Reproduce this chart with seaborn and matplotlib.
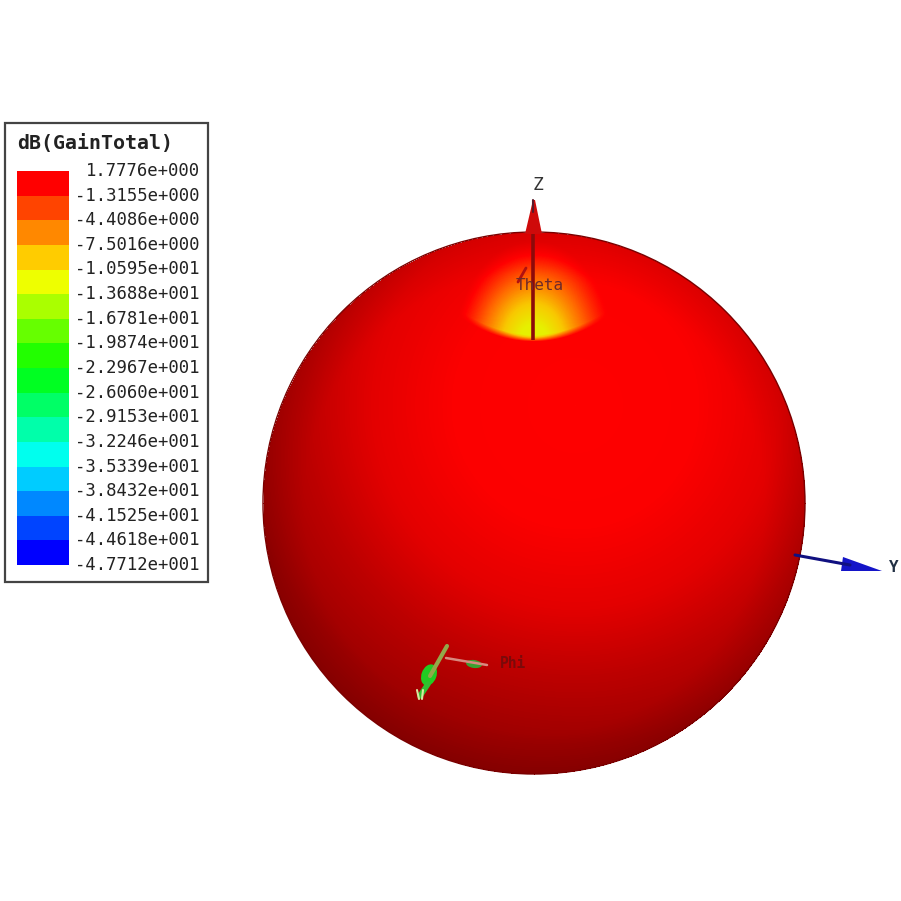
import numpy as np
import matplotlib
matplotlib.use("Agg")
import matplotlib.pyplot as plt
from matplotlib.colors import ListedColormap, LinearSegmentedColormap
from matplotlib.patches import Rectangle, Circle, Polygon, Ellipse
import seaborn as sns

# legend levels
db_labels = ["1.7776e+000", "-1.3155e+000", "-4.4086e+000", "-7.5016e+000", "-1.0595e+001",
             "-1.3688e+001", "-1.6781e+001", "-1.9874e+001", "-2.2967e+001", "-2.6060e+001",
             "-2.9153e+001", "-3.2246e+001", "-3.5339e+001", "-3.8432e+001", "-4.1525e+001",
             "-4.4618e+001", "-4.7712e+001"]
db_levels = [1.7776, -1.3155, -4.4086, -7.5016, -10.595, -13.688, -16.781, -19.874, -22.967,
             -26.060, -29.153, -32.246, -35.339, -38.432, -41.525, -44.618, -47.712]
band_colors = ["#ff0000", "#ff4400", "#ff8800", "#ffcc00", "#eeff00", "#aaff00", "#66ff00", "#22ff00",
               "#00ff22", "#00ff66", "#00ffaa", "#00ffee", "#00ccff", "#0088ff", "#0044ff", "#0000ff"]

# how the red falls off away from the bright area of the ball
shade_dist = [0.0, 0.45, 0.75, 1.0, 1.25, 1.5]
shade_val = [0.50, 0.49, 0.42, 0.31, 0.22, 0.18]
surface_stops = [(0.0, "#500000"), (0.5, "#ff0000"), (0.68, "#ff6a00"), (0.85, "#f8c800"), (1.0, "#e6f000")]

sns.set_style("white")
W = 901
fig = plt.figure(figsize=(9.01, 9.01), dpi=100, facecolor="white")


def px_axes(x0, y0, x1, y1):
    return fig.add_axes([x0 / W, 1 - y1 / W, (x1 - x0) / W, (y1 - y0) / W])


# legend colour bar
mids = [(db_levels[i] + db_levels[i + 1]) / 2 for i in range(len(band_colors))]
cax = px_axes(17, 171, 69, 565)
sns.heatmap(np.array(mids).reshape(-1, 1), ax=cax, cmap=ListedColormap(band_colors[::-1]),
            vmin=db_levels[-1], vmax=db_levels[0], cbar=False, xticklabels=False, yticklabels=False)

# radiation surface
cx, cy, r = 534, 503, 271
xs = np.arange(cx - r, cx + r + 1)
ys = np.arange(cy - r, cy + r + 1)
X, Y = np.meshgrid(xs, ys)
d = np.hypot(X - 575, Y - 405) / r
limb = np.hypot(X - cx, Y - cy) / r
base = np.interp(d, shade_dist, shade_val) - 0.05 * np.clip(limb - 0.85, 0, 1) / 0.15

t = np.hypot((X - 533) / 78.0, (Y - 345) / 105.0)
spot = np.clip(1 - t, 0, 1) ** 1.2
bowl = 341 - 11 * ((X - 533) / 50.0) ** 2
spot = spot * np.clip((bowl - Y) / 7.0, 0, 1)
grid = np.clip(base + spot * 0.66, 0, 1)

sax = px_axes(cx - r, cy - r, cx + r + 1, cy + r + 1)
surface_cmap = LinearSegmentedColormap.from_list("surface", surface_stops)
sns.heatmap(grid, ax=sax, cmap=surface_cmap, vmin=0, vmax=1, cbar=False, mask=limb > 1,
            xticklabels=False, yticklabels=False, rasterized=True)

# overlay in picture pixels
ax = fig.add_axes([0, 0, 1, 1], zorder=5)
ax.set_xlim(0, W)
ax.set_ylim(W, 0)
ax.axis("off")

ax.add_patch(Circle((cx, cy), r, fill=False, ec="#7a0000", lw=1.0))

# legend box and text
ax.add_patch(Rectangle((5, 123), 203, 459, fill=False, ec="#444444", lw=1.6))
ax.text(17, 143, "dB(GainTotal)", family="DejaVu Sans Mono", weight="bold", fontsize=14.3,
        color="#222222", va="center", ha="left")
lab_y = np.linspace(171, 565, len(db_labels))
for y, lab in zip(lab_y, db_labels):
    ax.text(200, y, lab, family="DejaVu Sans Mono", fontsize=12.4, color="#222222", va="center", ha="right")

# Z axis
ax.add_patch(Polygon([[525, 234], [533, 200], [535, 200], [542, 234]], fc="#cf0a0a", ec="none"))
ax.plot([533, 533], [234, 340], color="#8c0a0a", lw=2.6, solid_capstyle="butt")
ax.plot([533, 533], [200, 212], color="#5a1a2a", lw=1.5)
ax.text(538, 185, "Z", family="DejaVu Sans Mono", fontsize=13, color="#333333", ha="center", va="center")
ax.plot([518, 526], [282, 268], color="#b01010", lw=2)
ax.text(540, 286, "Theta", family="DejaVu Sans Mono", fontsize=11.5, color="#6e2a2a", ha="center", va="center")

# Y axis
ax.plot([795, 850], [555, 565], color="#101080", lw=2.2)
ax.add_patch(Polygon([[843, 557], [841, 571], [882, 571]], fc="#1414c8", ec="none"))
ax.text(894, 567, "Y", family="DejaVu Sans Mono", fontsize=11.5, weight="bold", color="#223044", ha="center", va="center")

# Phi marker
ax.plot([447, 430], [646, 676], color="#93a84a", lw=3)
ax.add_patch(Ellipse((429, 675), 15, 22, angle=20, fc="#22cc22", ec="none"))
ax.plot([428, 420], [684, 696], color="#30c030", lw=4)
ax.plot([417, 419], [690, 699], color="#d8e8a0", lw=1.5)
ax.plot([423, 422], [690, 699], color="#d8e8a0", lw=1.5)
ax.plot([446, 487], [658, 665], color="#d88a80", lw=1.8)
ax.add_patch(Ellipse((474, 664), 16, 8, angle=8, fc="#3aa030", ec="none"))
ax.text(513, 663, "Phi", family="DejaVu Sans Mono", fontsize=10.5, weight="bold", color="#7a0a0a", ha="center", va="center")

fig.savefig("out.png", dpi=100, facecolor="white")
